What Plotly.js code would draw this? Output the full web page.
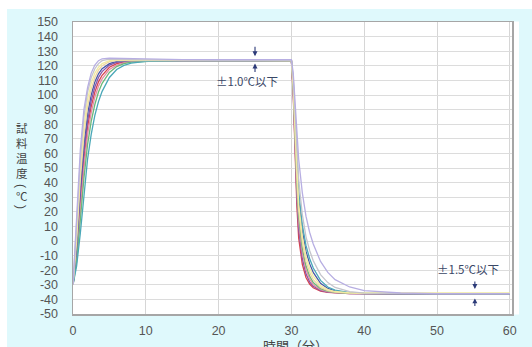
<!DOCTYPE html>
<html>
<head>
<meta charset="utf-8">
<script src="https://cdn.plot.ly/plotly-3.0.1.min.js"></script>
<style>
html,body{margin:0;padding:0;background:#ffffff;width:532px;height:347px;overflow:hidden;}
#chart{position:absolute;left:7px;top:9px;width:525px;height:338px;}
</style>
</head>
<body>
<div id="chart"></div>
<script>
// time (minutes)
const time = [0,0.5,1,1.5,2,2.5,3,3.5,4,5,6,7,8,10,12,15,20,25,30,
  30.25,30.5,30.75,31,31.5,32,32.5,33,34,35,36,38,40,45,50,55,60];

// sample temperature series (°C)
const lavender = [-30,20,62,90,105,115,120.5,123.5,124.8,125.3,125.2,125,124.8,124.5,124.3,124.2,124.2,124.2,124.2,
  115,93,73,56,33,17,6,-2,-14,-21.5,-26.5,-31.5,-34,-35.6,-36,-36,-36];
const lightGray = [-30,12,55,85,102,112,118,121.5,123.5,124.6,124.6,124.4,124.2,124,123.9,123.8,123.8,123.8,123.8,
  112,86,62,42,18,3,-6.5,-13.5,-23,-28.5,-31.8,-34.7,-35.7,-36.2,-36.2,-36.2,-36.2];
const lightYellow = [-30,5,48,78,97,108,115,119,121.5,123.5,124,124,123.9,123.8,123.7,123.6,123.6,123.6,123.6,
  107,76,47,25,3,-10.5,-18.5,-24,-30.5,-33.3,-34.6,-35.5,-35.6,-35.5,-35.5,-35.5,-35.5];
const cream = [-30,0,42,72,92,104,112,117,120,122.8,123.6,123.7,123.7,123.6,123.5,123.5,123.5,123.5,123.5,
  106,73,43,21,-1,-14,-21.5,-26.5,-31.8,-34,-35,-35.7,-36,-36,-36,-36,-36];
const darkBlue = [-30,-4,36,66,87,100,109,114.5,118,121.5,123,123.4,123.5,123.5,123.5,123.5,123.5,123.5,123.5,
  108,79,51,29,7,-7,-15.5,-21.5,-29,-32.5,-34.2,-35.5,-36,-36.3,-36.3,-36.3,-36.3];
const purple = [-30,-7,31,61,82,96,105.5,112,116,120.5,122.3,123,123.3,123.4,123.5,123.5,123.5,123.5,123.5,
  102,62,30,8,-12,-22.5,-28,-31,-33.8,-35,-35.5,-36,-36.2,-36.3,-36.3,-36.3,-36.3];
const red = [-30,-10,26,56,78,92,102,109,113.5,119,121.5,122.6,123.1,123.4,123.5,123.5,123.5,123.5,123.5,
  100,58,24,2,-16,-25,-29.5,-32,-34.3,-35.2,-35.6,-36,-36,-36,-36,-36,-36];
const pink = [-30,-12,20,50,73,88,98.5,106,111,117.5,120.5,122,122.8,123.3,123.4,123.5,123.5,123.5,123.5,
  104,67,35,13,-8,-19.5,-26,-30,-33.3,-34.7,-35.3,-35.9,-36,-36,-36,-36,-36];
const green = [-30,-14,14,43,66,82,93.5,102,108,115.5,119.5,121.5,122.5,123.2,123.4,123.5,123.5,123.5,123.5,
  105,70,39,17,-5,-17,-24,-28.5,-32.7,-34.4,-35.2,-35.8,-36,-36,-36,-36,-36];
const teal = [-30,-17,5,32,56,73,86,95.5,102.5,112,117.5,120.3,121.8,123,123.3,123.5,123.5,123.5,123.5,
  110,82,55,34,11,-3,-12,-18.5,-27,-31.5,-33.7,-35.4,-35.9,-36,-36,-36,-36];

const seriesList = [
  {y: red, color: '#d8444e'},
  {y: purple, color: '#8a55a8'},
  {y: pink, color: '#e48ea6'},
  {y: green, color: '#6cb878'},
  {y: darkBlue, color: '#4858a8'},
  {y: teal, color: '#4aa8b8'},
  {y: cream, color: '#efd6a6'},
  {y: lightYellow, color: '#f2eca0'},
  {y: lightGray, color: '#c4c4cc'},
  {y: lavender, color: '#b7aee2'}
];

const xTicks = [0,10,20,30,40,50,60];
const yTicks = [-50,-40,-30,-20,-10,0,10,20,30,40,50,60,70,80,90,100,110,120,130,140,150];

const yTitleWord = ['試','料','温','度'];
const yTitleUnit = '℃';

const traces = seriesList.map(s => ({
  x: time, y: s.y, type: 'scatter', mode: 'lines',
  line: {color: s.color, width: 1.3}, hoverinfo: 'skip', showlegend: false
}));

const plotH = 292;
const px2y = p => (314 - p) / plotH;
const px2x = p => (p - 72.5) / 440;
const titleFont = {family: 'Noto Sans CJK JP', size: 11.5, color: '#444'};
const parenFont = {family: 'Liberation Sans', size: 12, color: '#444'};
const annotations = [];
annotations.push({
  text: yTitleWord.join('<br>'), xref: 'paper', yref: 'paper',
  x: px2x(21), y: px2y(150.5), xanchor: 'center', yanchor: 'middle', showarrow: false,
  font: titleFont
});
annotations.push({
  text: '(', xref: 'paper', yref: 'paper', textangle: 90,
  x: px2x(21), y: px2y(185.5), xanchor: 'center', yanchor: 'middle', showarrow: false,
  font: parenFont
});
annotations.push({
  text: yTitleUnit, xref: 'paper', yref: 'paper',
  x: px2x(21.5), y: px2y(196), xanchor: 'center', yanchor: 'middle', showarrow: false,
  font: titleFont
});
annotations.push({
  text: ')', xref: 'paper', yref: 'paper', textangle: 90,
  x: px2x(21), y: px2y(206.5), xanchor: 'center', yanchor: 'middle', showarrow: false,
  font: parenFont
});
annotations.push({
  text: '時間（分）', xref: 'paper', yref: 'paper',
  x: px2x(296), y: px2y(345),
  xanchor: 'center', yanchor: 'middle', showarrow: false,
  font: {family: 'Noto Sans CJK JP', size: 13, color: '#444'}
});
const noteFont = {family: 'Noto Sans CJK JP', size: 11.5, color: '#3a4766'};
annotations.push({text: '±1.0℃以下', x: 23.9, y: 109.5, xref: 'x', yref: 'y',
  showarrow: false, font: noteFont});
annotations.push({text: '±1.5℃以下', x: 54.3, y: -19.5, xref: 'x', yref: 'y',
  showarrow: false, font: noteFont});
const arrowBase = {text: '', xref: 'x', yref: 'y', showarrow: true, arrowhead: 2,
  arrowsize: 0.9, arrowwidth: 1.1, arrowcolor: '#2c3a78', ax: 0};
annotations.push(Object.assign({}, arrowBase, {x: 25, y: 126.6, ay: -11}));
annotations.push(Object.assign({}, arrowBase, {x: 25, y: 121.6, ay: 10}));
annotations.push(Object.assign({}, arrowBase, {x: 55.2, y: -32.8, ay: -9}));
annotations.push(Object.assign({}, arrowBase, {x: 55.2, y: -39.3, ay: 9}));

const layout = {
  width: 525, height: 338,
  margin: {l: 65.5, r: 20, t: 13, b: 33, pad: 0},
  paper_bgcolor: '#dff9fc',
  plot_bgcolor: '#ffffff',
  font: {family: 'Liberation Sans, Arial, sans-serif', size: 12, color: '#555'},
  xaxis: {
    range: [0, 60.3], tickvals: xTicks, ticktext: xTicks.map(String),
    showgrid: true, gridcolor: '#d6d6d6', gridwidth: 1, zeroline: false,
    showline: true, mirror: true, linecolor: '#a6a6a6', linewidth: 1.5,
    ticks: 'outside', ticklen: 4, tickcolor: 'rgba(0,0,0,0)',
    tickfont: {size: 12.5, color: '#555'}
  },
  yaxis: {
    range: [-50, 150], tickvals: yTicks, ticktext: yTicks.map(String),
    showgrid: true, gridcolor: '#dcdcdc', gridwidth: 1, zeroline: false,
    showline: true, mirror: true, linecolor: '#a6a6a6', linewidth: 1.5,
    ticks: 'outside', ticklen: 11, tickcolor: 'rgba(0,0,0,0)',
    tickfont: {size: 12.5, color: '#555'}
  },
  shapes: [
    {type: 'rect', xref: 'paper', yref: 'paper', x0: 1.002, x1: 1 + 7 / 440, y0: -0.002, y1: 1.002,
     fillcolor: '#ffffff', line: {width: 0}, layer: 'below'}
  ],
  annotations: annotations
};

Plotly.newPlot('chart', traces, layout, {displayModeBar: false, staticPlot: true});
</script>
</body>
</html>
